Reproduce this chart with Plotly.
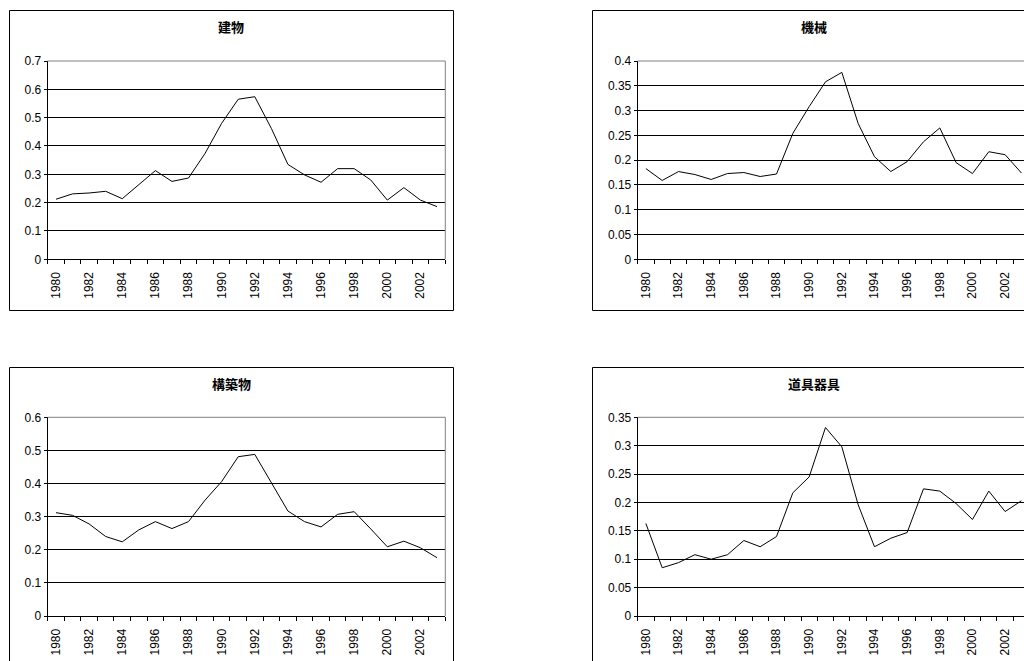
import plotly.graph_objects as go

years = list(range(1980, 2004))

title_building = "建物"
title_machine = "機械"
title_structure = "構築物"
title_tools = "道具器具"

building = [0.212, 0.231, 0.234, 0.240, 0.214, 0.262, 0.313, 0.275, 0.287, 0.374,
            0.480, 0.565, 0.574, 0.462, 0.335, 0.298, 0.272, 0.320, 0.320, 0.280,
            0.209, 0.253, 0.209, 0.186]
machine = [0.183, 0.159, 0.177, 0.171, 0.161, 0.173, 0.175, 0.167, 0.172, 0.254,
           0.308, 0.358, 0.377, 0.274, 0.207, 0.177, 0.197, 0.237, 0.265, 0.195,
           0.173, 0.217, 0.211, 0.174]
structure = [0.312, 0.304, 0.278, 0.240, 0.224, 0.260, 0.285, 0.264, 0.285, 0.350,
             0.406, 0.481, 0.488, 0.401, 0.317, 0.285, 0.269, 0.307, 0.315, 0.263,
             0.209, 0.226, 0.206, 0.176]
tools = [0.163, 0.085, 0.094, 0.108, 0.100, 0.108, 0.133, 0.122, 0.140, 0.217,
         0.245, 0.332, 0.298, 0.196, 0.122, 0.137, 0.147, 0.224, 0.220, 0.198,
         0.170, 0.220, 0.184, 0.203]

label_years = [y for y in years if y % 2 == 0]
boundaries = [y - 0.5 for y in years] + [years[-1] + 0.5]

W, H = 1024, 661
def px(x):
    return x / W
def py(y):
    return 1 - y / H

right_xmax = 1979.5 + (1024 - 637.7) / 16.33

panels = [
    # (title, data, ymax, dtick, xdomain px, ydomain px, box px, title pos, xmax, right border)
    (title_building, building, 0.7, 0.1, (47.7, 445.3), (61, 259.3), (9.5, 453.5, 10.5, 310.5), (231, 27), 2003.5, True),
    (title_machine, machine, 0.4, 0.05, (637.7, 1024), (61, 259.3), (592.5, 1200, 10.5, 310.5), (814.3, 27), right_xmax, False),
    (title_structure, structure, 0.6, 0.1, (47.7, 445.3), (417.3, 616), (9.5, 453.5, 367.5, 800), (231, 383), 2003.5, True),
    (title_tools, tools, 0.35, 0.05, (637.7, 1024), (417.3, 616), (592.5, 1200, 367.5, 800), (814.3, 383), right_xmax, False),
]

fig = go.Figure()
shapes = []
annotations = []
tick_font = dict(family="Liberation Sans, Arial", size=12, color="#000")

for i, (title, data, ymax, dtick, xd, yd, box, tpos, xmax, right_border) in enumerate(panels):
    n = "" if i == 0 else str(i + 1)
    fig.add_trace(go.Scatter(x=years, y=data, mode="lines",
                             line=dict(color="#000", width=1),
                             xaxis="x" + n, yaxis="y" + n, showlegend=False,
                             hoverinfo="x+y"))
    fig.layout["xaxis" + n] = dict(
        domain=[px(xd[0]), px(xd[1])], anchor="y" + n, automargin=False,
        range=[1979.5, xmax], tickmode="array", tickvals=label_years,
        ticktext=[str(y) for y in label_years], tickangle=-90,
        ticks="outside", ticklen=7, tickcolor="rgba(0,0,0,0)",
        showgrid=False, zeroline=False, showline=True, linecolor="#000", linewidth=1,
        tickfont=tick_font,
        minor=dict(tickmode="array", tickvals=boundaries, ticks="outside",
                   ticklen=4, tickcolor="#000", tickwidth=1, showgrid=False),
        fixedrange=True,
    )
    fig.layout["yaxis" + n] = dict(
        domain=[py(yd[1]), py(yd[0])], anchor="x" + n, automargin=False,
        range=[0, ymax], dtick=dtick, tick0=0,
        ticks="outside", ticklen=3, tickcolor="#000",
        showgrid=True, gridcolor="#000", gridwidth=1,
        zeroline=False, showline=True, linecolor="#000", linewidth=1,
        tickfont=tick_font, fixedrange=True,
    )
    shapes.append(dict(type="line", xref="x" + n + " domain", yref="y" + n + " domain",
                       x0=0, x1=1, y0=1, y1=1, line=dict(color="#808080", width=1), layer="above"))
    if right_border:
        shapes.append(dict(type="line", xref="x" + n + " domain", yref="y" + n + " domain",
                           x0=1, x1=1, y0=0, y1=1, line=dict(color="#808080", width=1), layer="above"))
    shapes.append(dict(type="rect", xref="paper", yref="paper",
                       x0=px(box[0]), x1=px(box[1]), y0=py(box[3]), y1=py(box[2]),
                       line=dict(color="#000", width=1), fillcolor="rgba(0,0,0,0)", layer="below"))
    annotations.append(dict(text="<b>" + title + "</b>", xref="paper", yref="paper",
                            x=px(tpos[0]), y=py(tpos[1]), xanchor="center", yanchor="middle",
                            showarrow=False,
                            font=dict(family="Noto Sans CJK JP", size=13, color="#000")))

fig.update_layout(
    width=W, height=H, margin=dict(l=0, r=0, t=0, b=0, pad=0, autoexpand=False),
    paper_bgcolor="#fff", plot_bgcolor="#fff",
    shapes=shapes, annotations=annotations, showlegend=False,
)

fig.write_html(
    "out.html",
    config={"displayModeBar": False},
    post_script=(
        "document.documentElement.style.overflow='hidden';"
        "document.body.style.margin='0';"
        "document.body.style.overflow='hidden';"
    ),
)
